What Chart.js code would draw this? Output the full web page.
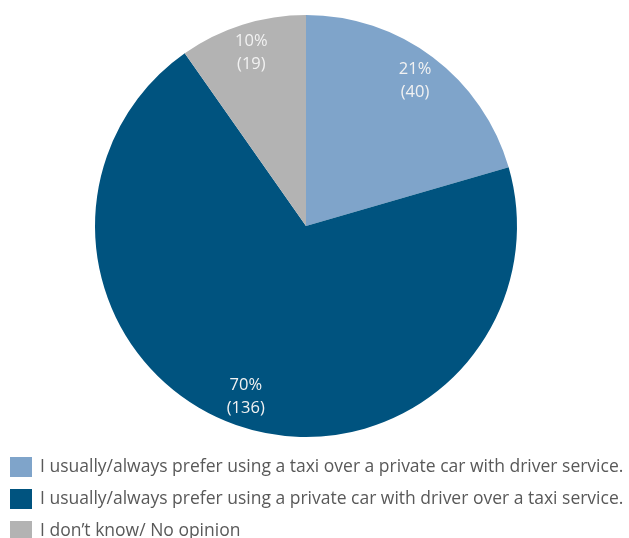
<!DOCTYPE html>
<html>
<head>
<meta charset="utf-8">
<script src="https://cdn.jsdelivr.net/npm/chart.js@4/dist/chart.umd.min.js"></script>
<style>
  html, body { margin: 0; padding: 0; background: #ffffff; overflow: hidden; }
  #wrap { position: relative; width: 629px; height: 538px; }
</style>
</head>
<body>
<div id="wrap"><canvas id="chart"></canvas></div>
<script>
// Survey answers: taxi vs. private car with driver
const categories = [
  'I usually/always prefer using a taxi over a private car with driver service.',
  'I usually/always prefer using a private car with driver over a taxi service.',
  'I don\u2019t know/ No opinion'
];
const counts = [40, 136, 19];
const percentLabels = ['21%', '70%', '10%'];
const sliceColors = ['#7FA4CA', '#00537F', '#B3B3B3'];

// Writes "NN%" and "(count)" inside each slice
const sliceLabels = {
  id: 'sliceLabels',
  afterDatasetsDraw(chart) {
    const ctx = chart.ctx;
    const meta = chart.getDatasetMeta(0);
    ctx.save();
    ctx.font = '16.5px "Open Sans", sans-serif';
    ctx.fillStyle = '#F2F2F2';
    ctx.textAlign = 'center';
    ctx.textBaseline = 'middle';
    meta.data.forEach((arc, i) => {
      const p = arc.getProps(['x', 'y', 'startAngle', 'endAngle', 'outerRadius'], true);
      const mid = (p.startAngle + p.endAngle) / 2;
      const r = p.outerRadius * 0.86;
      const cx = p.x + Math.cos(mid) * r;
      const cy = p.y + Math.sin(mid) * r;
      ctx.fillText(percentLabels[i], cx, cy - 11.5);
      ctx.fillText('(' + counts[i] + ')', cx, cy + 11.5);
    });
    ctx.restore();
  }
};

// Legend stacked one entry per row under the pie, left aligned
const stackedLegend = {
  id: 'stackedLegend',
  afterDraw(chart) {
    const ctx = chart.ctx;
    const ds = chart.data.datasets[0];
    const top = chart.chartArea.bottom + 10;
    ctx.save();
    ctx.font = '17.5px "Open Sans", sans-serif';
    ctx.textAlign = 'left';
    ctx.textBaseline = 'middle';
    chart.data.labels.forEach((label, i) => {
      const y = top + i * 32;
      ctx.fillStyle = ds.backgroundColor[i];
      ctx.fillRect(10, y, 22, 20);
      ctx.fillStyle = '#595959';
      ctx.fillText(label, 40, y + 10);
    });
    ctx.restore();
  }
};

new Chart(document.getElementById('chart'), {
  type: 'pie',
  data: {
    labels: categories,
    datasets: [{
      data: counts,
      backgroundColor: sliceColors,
      borderWidth: 0,
      radius: 211
    }]
  },
  options: {
    responsive: true,
    maintainAspectRatio: false,
    animation: false,
    layout: { padding: { top: 5, left: 0, right: 17, bottom: 91 } },
    plugins: {
      tooltip: { enabled: false },
      legend: { display: false }
    }
  },
  plugins: [sliceLabels, stackedLegend]
});
</script>
</body>
</html>
